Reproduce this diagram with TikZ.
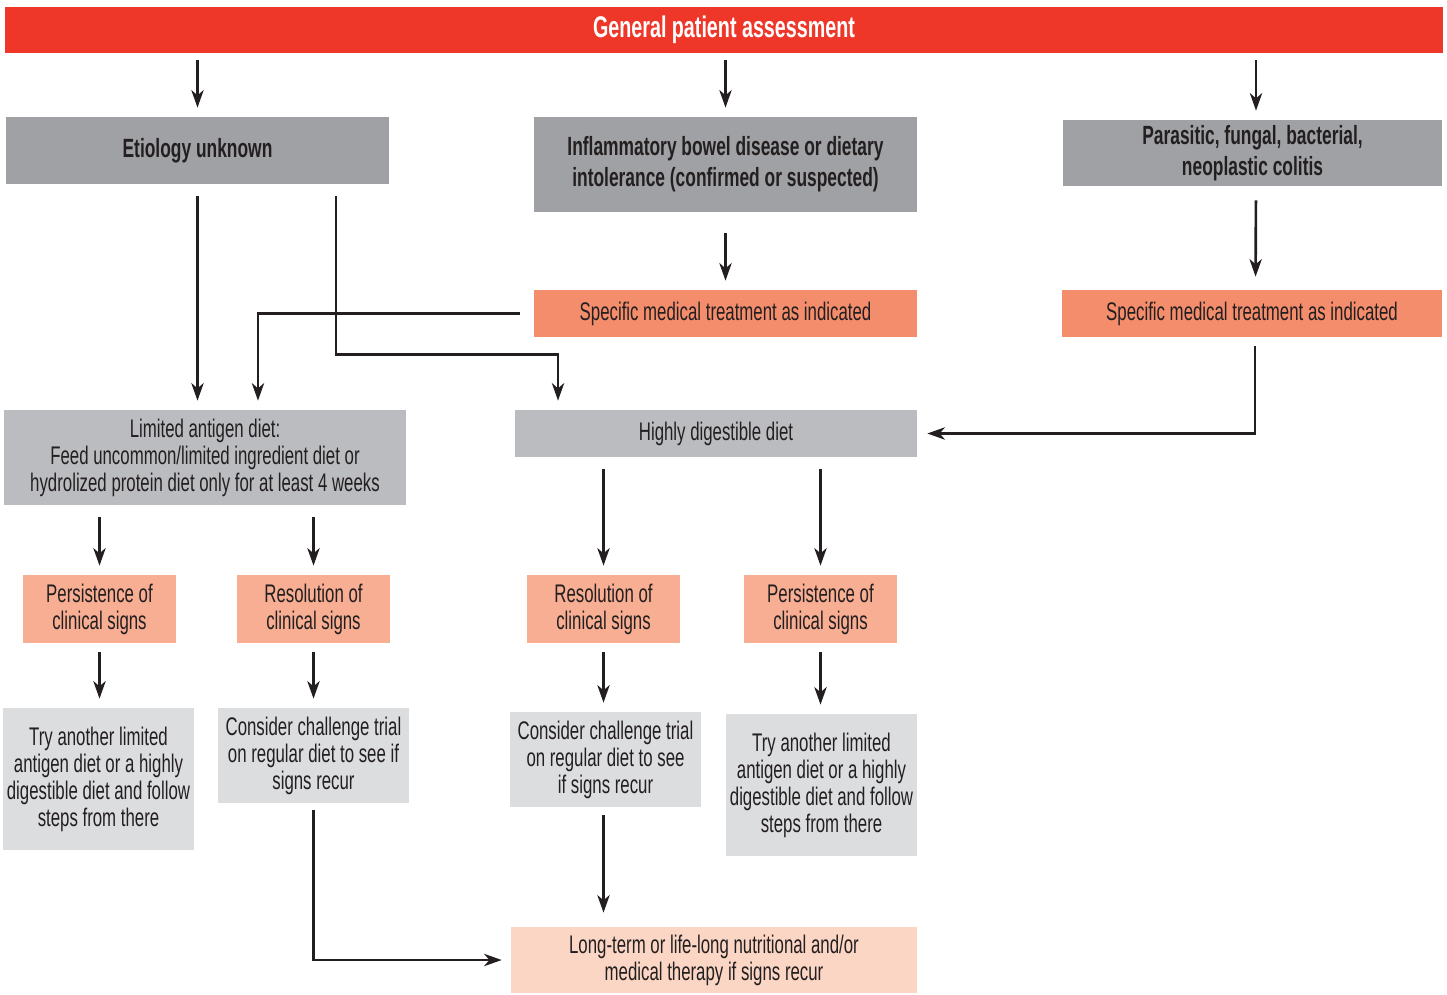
\documentclass[tikz,border=0pt]{standalone}
\usepackage{fontspec}
\setmainfont[FakeStretch=0.66]{Liberation Sans}
\usetikzlibrary{arrows.meta,positioning}
\definecolor{ink}{RGB}{35,31,32}
\definecolor{hdrred}{RGB}{238,55,41}
\definecolor{causegray}{RGB}{160,161,164}
\definecolor{dietgray}{RGB}{187,188,191}
\definecolor{stepgray}{RGB}{220,221,223}
\definecolor{treatsalmon}{RGB}{244,141,108}
\definecolor{signsalmon}{RGB}{248,174,146}
\definecolor{endpeach}{RGB}{252,214,196}

\begin{document}
\begin{tikzpicture}[x=0.02cm, y=-0.02cm,
    box/.style={rectangle, inner sep=2pt, align=center, text=ink, font=\fontsize{14.5}{15.4}\selectfont},
    cause/.style={box, fill=causegray, minimum height=1.34cm, font=\bfseries\fontsize{15}{17.6}\selectfont},
    treat/.style={box, fill=treatsalmon, minimum width=7.66cm, minimum height=0.94cm},
    diet/.style={box, fill=dietgray, minimum width=8.04cm},
    sign/.style={box, fill=signsalmon, minimum width=3.06cm, minimum height=1.36cm},
    advice/.style={box, fill=stepgray, minimum width=3.82cm},
    arr/.style={-{Stealth[length=10pt,width=7pt,inset=3pt]}, line width=1.5pt, draw=ink, shorten <=0.24cm, shorten >=0.18cm}
]
\useasboundingbox (0,0) rectangle (1447,994);

% header
\node[rectangle, fill=hdrred, minimum width=28.76cm, minimum height=0.92cm, text=white,
      font=\bfseries\fontsize{17}{20}\selectfont] (hdr) at (724,30) {General patient assessment};

% causes
\node[cause, minimum width=7.66cm] (etio) at (197.5,150.5) {Etiology unknown};
\node[cause, minimum width=7.66cm, minimum height=1.9cm] (ibd) at (725.5,164.5)
    {Inflammatory bowel disease or dietary\\intolerance (confirmed or suspected)};
\node[cause, minimum width=7.58cm, minimum height=1.32cm] (para) at (1252.5,153)
    {Parasitic, fungal, bacterial,\\neoplastic colitis};

% treatments
\node[treat] (smt1) at (725.5,313.5) {Specific medical treatment as indicated};
\node[treat, minimum width=7.6cm] (smt2) at (1252,313.5) {Specific medical treatment as indicated};

% diets
\node[diet, minimum height=1.9cm] (lad) at (205,457.5)
    {Limited antigen diet:\\Feed uncommon/limited ingredient diet or\\hydrolized protein diet only for at least 4 weeks};
\node[diet, minimum height=0.94cm] (hdd) at (716,433.5) {Highly digestible diet};

% outcomes
\node[sign] (pers1) at (99.5,609) {Persistence of\\clinical signs};
\node[sign] (res1) at (313.5,609) {Resolution of\\clinical signs};
\node[sign] (res2) at (603.5,609) {Resolution of\\clinical signs};
\node[sign] (pers2) at (820.5,609) {Persistence of\\clinical signs};

% next steps
\node[advice, minimum height=2.84cm] (try1) at (98.5,779)
    {Try another limited\\antigen diet or a highly\\digestible diet and follow\\steps from there};
\node[advice, minimum height=1.9cm] (cons1) at (313.5,755.5)
    {Consider challenge trial\\on regular diet to see if\\signs recur};
\node[advice, minimum height=1.9cm] (cons2) at (605.5,759.5)
    {Consider challenge trial\\on regular diet to see\\if signs recur};
\node[advice, minimum height=2.84cm] (try2) at (821.5,785)
    {Try another limited\\antigen diet or a highly\\digestible diet and follow\\steps from there};

\node[box, fill=endpeach, minimum width=8.12cm, minimum height=1.32cm] (lt) at (714,960)
    {Long-term or life-long nutritional and/or\\medical therapy if signs recur};

% connectors
\draw[arr, shorten <=0.14cm] (hdr.south -| etio.north) -- (etio.north);
\draw[arr, shorten <=0.14cm] (hdr.south -| ibd.north) -- (ibd.north);
\draw[arr, shorten <=0.14cm] ([xshift=0.07cm]hdr.south -| para.north) -- ([xshift=0.07cm]para.north);

\draw[arr] (etio.south) -- (etio.south |- lad.north);
\draw[arr] ([xshift=2.77cm]etio.south) -- ++(0,170) -| ([xshift=-3.16cm]hdd.north);
\draw[arr, shorten <=0.42cm] (ibd.south) -- (smt1.north);
\draw[arr, shorten <=0.28cm, shorten >=0.26cm] ([xshift=0.07cm]para.south) -- ([xshift=0.07cm]smt2.north);
\draw[arr, shorten <=0.28cm] (smt1.west) -| ([xshift=1.06cm]lad.north);
\draw[arr, shorten <=0.18cm, shorten >=0.2cm] ([xshift=0.06cm]smt2.south) |- (hdd.east);

\draw[arr] (lad.south -| pers1.north) -- (pers1.north);
\draw[arr] (lad.south -| res1.north) -- (res1.north);
\draw[arr] (hdd.south -| res2.north) -- (res2.north);
\draw[arr] (hdd.south -| pers2.north) -- (pers2.north);

\draw[arr, shorten <=0.18cm] (pers1.south) -- (pers1.south |- try1.north);
\draw[arr, shorten <=0.18cm] (res1.south) -- (res1.south |- cons1.north);
\draw[arr, shorten <=0.18cm] (res2.south) -- (res2.south |- cons2.north);
\draw[arr, shorten <=0.18cm] (pers2.south) -- (pers2.south |- try2.north);

\draw[arr, shorten <=0.16cm, shorten >=0.28cm] (cons2.south -| res2.south) -- (res2.south |- lt.north);
\draw[arr, shorten <=0.14cm] (cons1.south) |- (lt.west);
\end{tikzpicture}
\end{document}
